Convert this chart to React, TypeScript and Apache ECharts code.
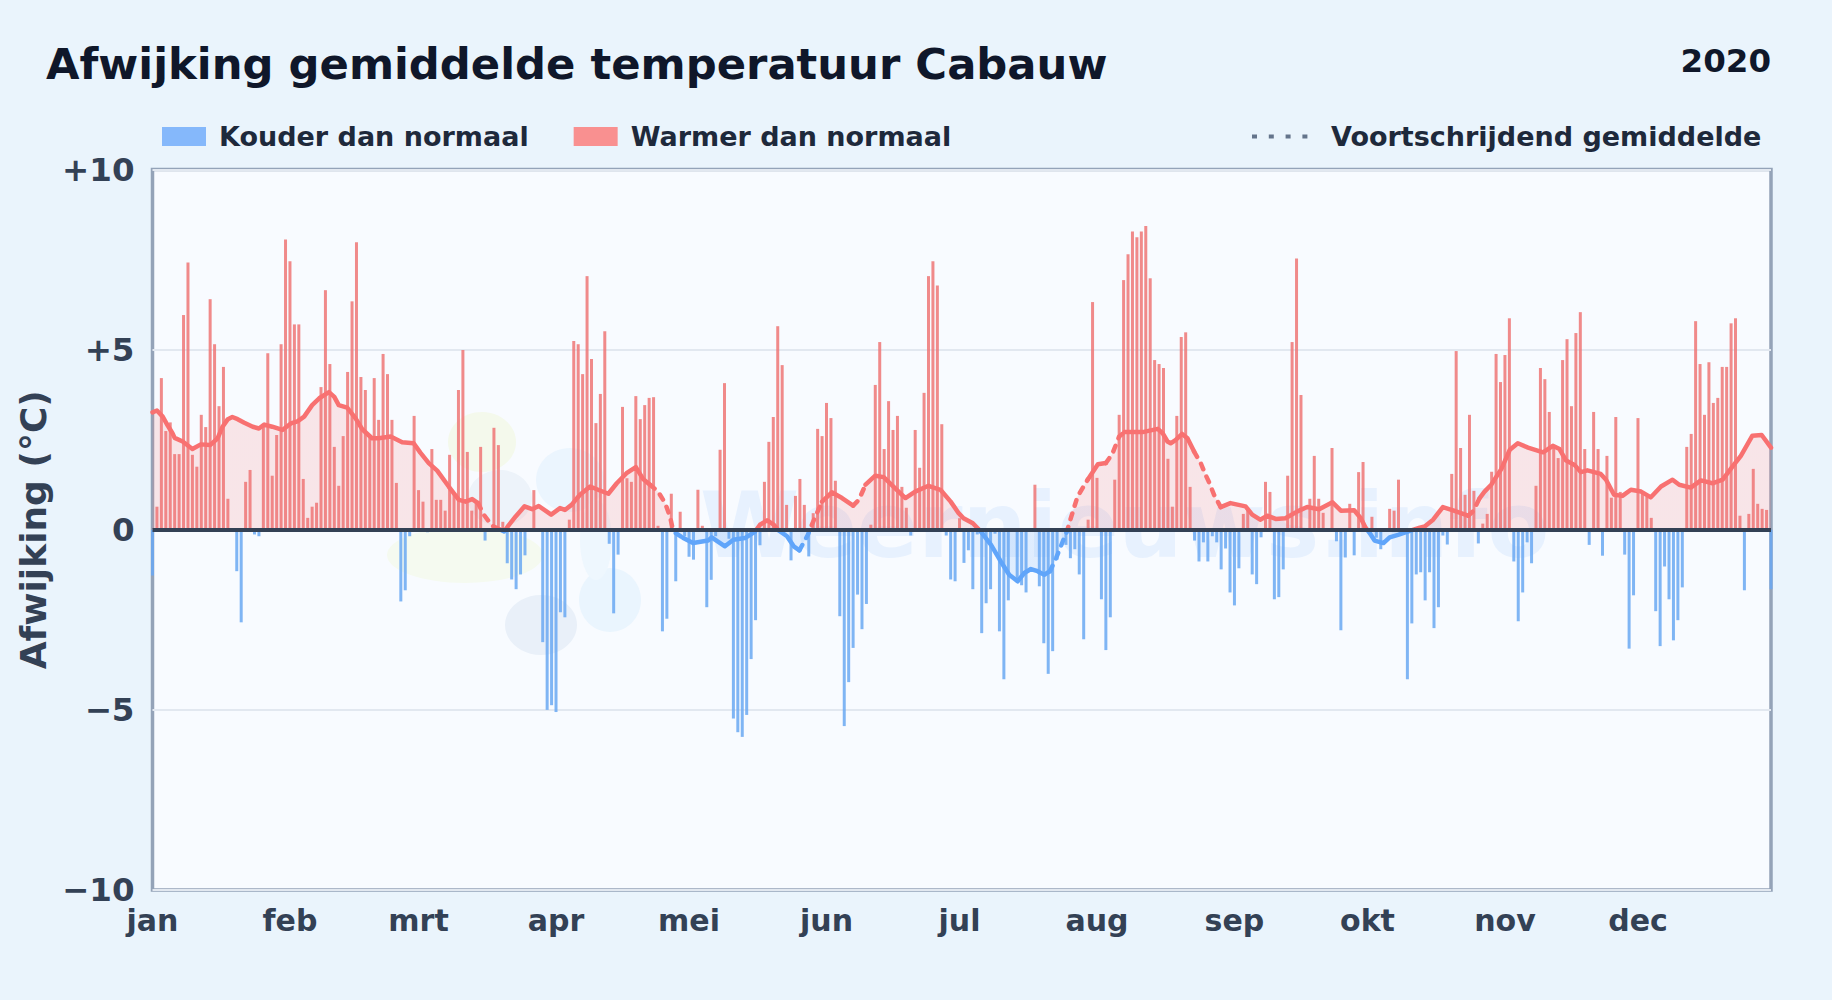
import React, { useEffect, useRef } from "react";
import * as echarts from "echarts";

const TITLE = "Afwijking gemiddelde temperatuur Cabauw";
const YEAR = "2020";
const Y_AXIS_NAME = "Afwijking (°C)";
const COLD_NAME = "Kouder dan normaal";
const WARM_NAME = "Warmer dan normaal";
const AVG_NAME = "Voortschrijdend gemiddelde";
const WATERMARK = "Weernieuws.info";

const monthLabels = ["jan", "feb", "mrt", "apr", "mei", "jun", "jul", "aug", "sep", "okt", "nov", "dec"];
const monthStarts = [0, 31, 60, 91, 121, 152, 182, 213, 244, 274, 305, 335];

// daily deviation (deg C), 1 Jan - 31 Dec 2020
const dailyValues = [
  -1.27, 0.64, 4.21, 2.74, 2.98, 2.1, 2.1, 5.96, 7.42, 2.08, 1.75, 3.19, 2.85, 6.4, 5.15, 3.43, 4.52, 0.86, 0, -1.15,
  -2.57, 1.33, 1.66, -0.13, -0.18, 2.86, 4.9, 1.5, 2.63, 5.15, 8.06, 7.45, 5.7, 5.7, 1.41, 0.33, 0.64, 0.75, 3.96, 6.65,
  4.6, 2.3, 1.22, 2.6, 4.38, 6.34, 7.98, 4.24, 3.88, 2.6, 4.21, 3.05, 4.88, 4.32, 3.05, 1.3, -1.99, -1.68, -0.18, 3.16,
  1.1, 0.78, -0.07, 2.24, 0.83, 0.83, 0.53, 2.08, 1.0, 3.88, 4.99, 2.16, 0.53, 0.75, 2.3, -0.3, 0, 2.83, 2.35, 0.22,
  -0.93, -1.38, -1.65, -1.24, -0.71, 0, 1.1, 0, -3.12, -5.0, -4.87, -5.06, -2.29, -2.43, 0.28, 5.24, 5.15, 4.32, 7.04, 4.74,
  2.96, 3.77, 5.51, -0.39, -2.32, -0.69, 3.41, 1.43, 1.33, 3.71, 3.07, 3.46, 3.66, 3.68, 0.11, -2.82, -2.47, 1.0, -1.43, 0.5,
  -0.18, -0.75, -0.83, 1.11, 0.11, -2.15, -1.39, -0.18, 2.22, 4.07, -0.25, -5.24, -5.62, -5.75, -5.14, -3.59, -2.51, -0.43, 1.33, 2.44,
  3.13, 5.65, 4.57, 0.69, -0.85, 0.94, 1.41, 0.69, -0.74, 0.46, 2.8, 2.6, 3.52, 3.1, 1.36, -2.4, -5.45, -4.23, -3.28, -1.8,
  -2.76, -2.06, 0.14, 4.02, 5.21, 2.24, 3.57, 2.77, 3.16, 1.19, 0.61, -0.16, 2.77, 1.72, 3.8, 7.04, 7.45, 6.78, 2.93, -0.16,
  -1.38, -1.43, 0.32, -0.92, -0.57, -1.65, -0.13, -2.87, -2.04, -1.65, -0.11, -2.82, -4.15, -1.96, 0, -1.46, -1.54, -1.74, 0, 1.25,
  -1.57, -3.15, -4.0, -3.37, -0.83, 0, -0.42, -0.79, -0.54, -1.24, -3.04, 0.28, 6.32, 1.44, -1.93, -3.34, -2.43, 1.39, 3.19, 6.93,
  7.65, 8.28, 8.12, 8.28, 8.43, 6.98, 4.71, 4.6, 4.49, 1.97, 0.64, 3.16, 5.35, 5.48, 1.19, -0.3, -0.88, -0.35, -0.88, -0.18,
  -0.35, -1.1, -0.52, -1.74, -2.1, -1.07, 0.44, 0.55, -1.24, -1.51, -0.21, 1.33, 1.05, -1.93, -1.87, -1.1, 1.5, 5.21, 7.53, 3.74,
  0, 0.86, 2.05, 0.86, 0.47, 0, 2.27, -0.32, -2.79, -0.77, 0.72, -0.71, 1.6, 1.88, 0, 0.36, -0.22, -0.54, 0, 0.58,
  0.53, 1.39, 0, -4.15, -2.6, -1.24, -1.18, -1.96, -1.18, -2.73, -2.15, -0.16, -0.41, 1.55, 4.96, 2.27, 0.97, 3.19, 1.08, -0.38,
  0.17, 0.44, 1.61, 4.88, 4.1, 4.85, 5.87, -0.88, -2.54, -1.74, -0.35, -0.93, 1.22, 4.49, 4.18, 3.27, 2.31, 1.99, 4.71, 5.29,
  3.43, 5.46, 6.04, 2.24, -0.42, 3.27, 2.24, -0.72, 2.05, 0.89, 3.13, 1.05, -0.69, -3.3, -1.82, 3.1, 1.0, 0.92, 0.33, -2.26,
  -3.23, -1.02, -1.93, -3.07, -2.51, -1.6, 2.3, 2.66, 5.79, 4.6, 3.19, 4.65, 3.52, 3.66, 4.52, 4.52, 5.73, 5.87, 0.39, -1.68,
  0.44, 1.69, 0.72, 0.58, 0.55, -1.65,
];

// running mean
const avgDays = [
  0, 1, 2.3, 3.4, 4.5, 5, 6.8, 9, 10.9, 13, 14.7, 15.8, 17, 18, 19.2, 20.7, 22.6, 24, 25.2, 27, 29.3, 31.2, 32.7, 34.2, 36, 37.6, 39.8, 41, 42, 43.9,
  45.8, 47.3, 49.5, 51, 53.7, 56.3, 58.9, 60.4, 62.3, 64.2, 66.8, 69.1, 70.6, 72.1, 73.4, 74.7, 76.6, 78.5, 79.3, 80, 81.9, 83.9, 85.6, 87.1, 89.9, 91.9,
  93, 94.5, 96.4, 98.7, 100.9, 102.8, 104.7, 106.9, 109, 110.7, 112.2, 114, 115.6, 116.7, 117.2, 118, 119.7, 121.9, 125.3, 126.1, 129.1, 131, 133.6, 135.9, 137,
  138.6, 140.1, 141.2, 143.1, 144.6, 145.9, 147.8, 148.4, 149.5, 151, 153.2, 155.5, 158, 159.3, 160.8, 163, 164.9, 167.5, 169.8, 172, 175, 177.7, 180, 181.8, 182.9,
  185, 186.8, 189.1, 191.3, 193.2, 195.1, 196.6, 198.1, 199.6, 201.1, 202.4, 203.8, 205.3, 206.2, 207.1, 208.6, 210.9, 213.2, 215, 216.5, 218, 219.2, 223.3, 226.7, 227.8, 228.9,
  229.6, 230.7, 232.2, 233.4, 234.9, 236.4, 237.5, 238.2, 239.4, 240.9, 243.1, 246.5, 248, 249.8, 251.4, 253.3, 255.5, 258.2, 260.4, 263.1, 266.1, 268, 271, 272.5, 273.6,
  274.5, 275.6, 277.6, 279, 280.9, 283.9, 285.8, 286.9, 288.8, 291, 293.3, 296.7, 297.8, 299.3, 300.4, 301.9, 304.2, 306.1, 307.9, 310.2, 313.6, 315.8, 317.3, 318.8,
  320.7, 322.1, 323.6, 326.6, 327.8, 329.6, 331.5, 333.4, 335.7, 337.9, 340.2, 342.8, 344.3, 346.9, 349.2, 351.8, 354.1, 356.3, 358.2, 360.8, 362.9, 365,
];
const avgValues = [
  3.26, 3.31, 3.14, 2.9, 2.68, 2.55, 2.45, 2.24, 2.37, 2.35, 2.54, 2.86, 3.07, 3.13, 3.07, 2.97, 2.86, 2.81, 2.92, 2.86, 2.77, 2.95, 3.01, 3.14, 3.46, 3.65, 3.82, 3.69, 3.46, 3.39,
  3.09, 2.79, 2.54, 2.54, 2.59, 2.43, 2.4, 2.14, 1.85, 1.64, 1.2, 0.83, 0.78, 0.85, 0.74, 0.42, 0.11, 0, -0.05, 0.07, 0.37, 0.65, 0.57, 0.66, 0.42, 0.6,
  0.55, 0.69, 0.97, 1.2, 1.09, 1.0, 1.29, 1.57, 1.74, 1.4, 1.25, 1.06, 0.74, 0.37, 0.09, -0.09, -0.23, -0.37, -0.3, -0.21, -0.46, -0.28, -0.23, -0.05, 0.14,
  0.26, 0.14, -0.02, -0.18, -0.46, -0.57, -0.14, 0.05, 0.37, 0.78, 1.04, 0.88, 0.67, 0.83, 1.25, 1.5, 1.46, 1.15, 0.88, 1.06, 1.22, 1.11, 0.78, 0.46, 0.32,
  0.18, -0.05, -0.42, -0.88, -1.25, -1.43, -1.2, -1.09, -1.15, -1.25, -1.15, -0.78, -0.32, -0.05, 0.32, 0.92, 1.39, 1.82, 1.85, 2.12, 2.59, 2.71, 2.71, 2.8, 2.68, 2.45,
  2.4, 2.49, 2.66, 2.54, 2.17, 1.85, 1.52, 1.34, 0.97, 0.63, 0.74, 0.65, 0.42, 0.28, 0.39, 0.3, 0.32, 0.51, 0.63, 0.57, 0.76, 0.53, 0.54, 0.32, 0.05,
  -0.09, -0.3, -0.37, -0.21, -0.14, -0.02, 0.06, 0.09, 0.28, 0.63, 0.54, 0.39, 0.51, 0.88, 1.06, 1.25, 1.69, 2.22, 2.4, 2.28, 2.15, 2.33, 2.24, 1.92,
  1.8, 1.6, 1.65, 1.55, 1.39, 0.97, 0.94, 1.11, 1.06, 0.9, 1.2, 1.39, 1.25, 1.17, 1.37, 1.29, 1.39, 1.75, 2.05, 2.61, 2.63, 2.28,
];
// stretches of the running mean that are drawn as dashes
const dashedRanges = [
  [74, 78], [113.5, 118], [147, 150], [159, 160], [203, 209], [215.5, 218], [236, 240], [297, 299],
];

const FONT = "DejaVu Sans";
const RED = "#f87171";
const BLUE = "#60a5fa";

const inDash = (d: number) => dashedRanges.some(([a, b]) => d >= a && d <= b);

export default function App() {
  const ref = useRef<HTMLDivElement>(null);
  useEffect(() => {
    document.body.style.margin = "0";
    const chart = echarts.init(ref.current!, undefined, { renderer: "svg" });

    const warm = dailyValues.map((v, i) => [i, v > 0 ? v : null]);
    const cold = dailyValues.map((v, i) => [i, v < 0 ? v : null]);
    const avgAll = avgDays.map((d, i) => [d, avgValues[i]]);
    const avgSolid = avgDays.map((d, i) => [d, inDash(d) ? null : avgValues[i]]);
    const avgDash = avgDays.map((d, i) => {
      const near = inDash(d) || (i > 0 && inDash(avgDays[i - 1])) || (i < avgDays.length - 1 && inDash(avgDays[i + 1]));
      return [d, near ? avgValues[i] : null];
    });

    const blob = (cx: number, cy: number, rx: number, ry: number, fill: string) => ({
      type: "ellipse", z: 1, silent: true, shape: { cx, cy, rx, ry }, style: { fill },
    });

    chart.setOption({
      animation: false,
      backgroundColor: "#eaf4fc",
      title: [
        { text: TITLE, left: 41, top: 37, textStyle: { fontFamily: FONT, fontWeight: "bold", fontSize: 43.3, color: "#0f172a" } },
        { text: YEAR, right: 56, top: 39, textStyle: { fontFamily: FONT, fontWeight: "bold", fontSize: 32.5, color: "#0f172a" } },
      ],
      legend: [
        {
          left: 157, top: 118, itemWidth: 44, itemHeight: 19, itemGap: 45,
          data: [
            { name: COLD_NAME, icon: "rect", itemStyle: { color: "#85b8fb", opacity: 1 } },
            { name: WARM_NAME, icon: "rect", itemStyle: { color: "#f99090", opacity: 1 } },
          ],
          textStyle: { fontFamily: FONT, fontWeight: "bold", fontSize: 27, color: "#1e293b", padding: [0, 0, 0, 8] },
          selectedMode: false,
        },
        {
          left: 1245, top: 118, itemWidth: 56, itemHeight: 19,
          data: [{ name: AVG_NAME }],
          itemStyle: { color: "transparent", opacity: 0, borderWidth: 0 },
          lineStyle: { color: "#64748b", type: [5, 11.8], width: 4, cap: "butt", opacity: 1 },
          textStyle: { fontFamily: FONT, fontWeight: "bold", fontSize: 27, color: "#1e293b", padding: [0, 0, 0, 18] },
          selectedMode: false,
        },
      ],
      grid: {
        left: 152.5, right: 61, top: 169.5, bottom: 110, show: true,
        backgroundColor: "#f8fbff", borderColor: "#94a3b8", borderWidth: 3.5, containLabel: false,
      },
      xAxis: {
        type: "value", min: 0, max: 365,
        splitLine: { show: false }, axisLine: { show: false }, axisTick: { show: false },
        axisLabel: {
          customValues: monthStarts,
          formatter: (v: number) => monthLabels[monthStarts.indexOf(v)] ?? "",
          fontFamily: FONT, fontWeight: "bold", fontSize: 30, color: "#334155", margin: 15,
        },
      },
      yAxis: {
        type: "value", min: -10, max: 10, interval: 5,
        name: Y_AXIS_NAME, nameLocation: "middle", nameRotate: 90, nameGap: 97,
        nameTextStyle: { fontFamily: FONT, fontWeight: "bold", fontSize: 36, color: "#334155" },
        axisLine: { show: false }, axisTick: { show: false },
        splitLine: { lineStyle: { color: "#e2e8f0", width: 2 } },
        axisLabel: {
          fontFamily: FONT, fontWeight: "bold", fontSize: 32.5, color: "#334155", margin: 18,
          formatter: (v: number) => (v > 0 ? `+${v}` : v < 0 ? `\u2212${-v}` : "0"),
        },
      },
      visualMap: {
        show: false, type: "piecewise", dimension: 1, seriesIndex: [0, 3, 4],
        pieces: [
          { lt: -100, color: BLUE },
          { gte: -100, lt: 0, color: BLUE },
          { gte: 0, lt: 100, color: RED },
          { gte: 100, color: RED },
        ],
      },
      graphic: [
        blob(482, 442, 34, 30, "#f4f9ec"),
        blob(465, 555, 78, 28, "#f5faf0"),
        blob(500, 498, 32, 28, "#edf3fa"),
        blob(541, 625, 36, 30, "#e9f0f9"),
        blob(570, 480, 34, 32, "#ebf5fe"),
        blob(610, 600, 31, 32, "#eaf5fe"),
        blob(596, 540, 16, 40, "#eef7fe"),
        {
          type: "text", z: 1, silent: true, x: 700, y: 480,
          style: { text: WATERMARK, fontFamily: FONT, fontWeight: "bold", fontSize: 90, fill: "rgba(96,165,250,0.11)" },
        },
      ],
      series: [
        {
          name: "area", type: "line", data: avgAll, symbol: "none", z: 2, silent: true,
          lineStyle: { width: 0 }, areaStyle: { opacity: 0.16 },
        },
        {
          name: COLD_NAME, type: "bar", data: cold, barWidth: 3, barGap: "-100%", z: 3,
          itemStyle: { color: "#6aa8f2", opacity: 0.85 },
        },
        {
          name: WARM_NAME, type: "bar", data: warm, barWidth: 3, barGap: "-100%", z: 3,
          itemStyle: { color: "#ef7575", opacity: 0.85 },
          markLine: {
            silent: true, symbol: "none", label: { show: false }, z: 6,
            lineStyle: { color: "#334155", width: 4, type: "solid", opacity: 1 },
            data: [{ yAxis: 0 }],
          },
        },
        {
          name: AVG_NAME, type: "line", data: avgSolid, symbol: "none", z: 5, connectNulls: false,
          lineStyle: { width: 4.5, cap: "round", join: "round" },
        },
        {
          name: AVG_NAME + " ", type: "line", data: avgDash, symbol: "none", z: 5, connectNulls: false,
          lineStyle: { width: 4.5, type: [6, 8], cap: "round", join: "round" },
        },
      ],
    });
    return () => chart.dispose();
  }, []);
  return <div ref={ref} style={{ width: 1832, height: 1000 }} />;
}
